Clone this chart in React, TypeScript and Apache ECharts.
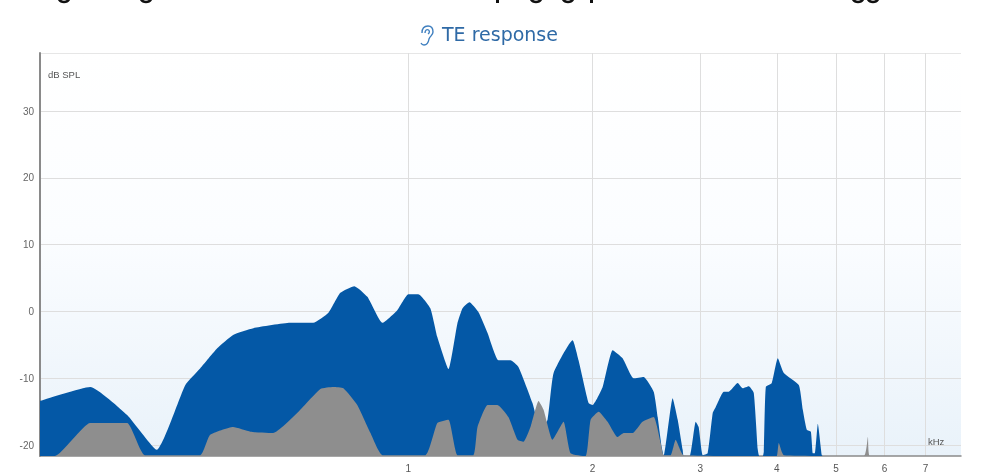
import React, { useEffect, useRef } from "react";
import * as echarts from "echarts";

const TITLE = "TE response";
const Y_UNIT = "dB SPL";
const X_UNIT = "kHz";
const FLOOR = -21.63;
const CEIL = 38.7;
const levelTicks = [-20, -10, 0, 10, 20, 30];
const freqTicks = [1, 2, 3, 4, 5, 6, 7];

const responseFreq = [
  0.25, 0.302, 0.347, 0.388, 0.432, 0.457, 0.487, 0.517, 0.558, 0.641, 0.699, 0.74, 0.774, 0.816, 0.857, 0.907, 0.959,
  1, 1.038, 1.086, 1.115, 1.163, 1.203, 1.226, 1.258, 1.302, 1.347, 1.404, 1.468, 1.513, 1.595, 1.644, 1.688, 1.727,
  1.855, 1.897, 1.97, 2, 2.077, 2.157, 2.239, 2.334, 2.424, 2.517, 2.555, 2.594, 2.613, 2.703, 2.755, 2.807, 2.818,
  2.882, 2.948, 2.981, 3.027, 3.084, 3.143, 3.179, 3.276, 3.338, 3.453, 3.519, 3.6, 3.668, 3.724, 3.745, 3.795, 3.809,
  3.838, 3.925, 4.015, 4.107, 4.345, 4.411, 4.478, 4.547, 4.581, 4.616, 4.668, 4.738, 4.76, 8,
];
const responseLevel = [
  -13.4, -11.3, -15.5, -20.7, -11, -8.5, -5.5, -3.5, -2.5, -1.7, -1.7, -0.2, 2.8, 3.8, 2.2, -1.7, 0.2,
  2.6, 2.6, 0.5, -3.8, -8.6, -1.7, 0.5, 1.4, -0.1, -3.2, -7.3, -7.3, -8.3, -13.7, -17.7, -16.2, -9.2,
  -4.3, -7.3, -13.7, -14, -11.3, -5.8, -7, -10, -9.8, -12, -15.8, -20.3, -21.63, -13, -16.2, -20.7, -21.63,
  -21.63, -16.5, -17.3, -21.5, -21.2, -15.2, -14.3, -12, -12, -10.7, -11.5, -11.2, -12.2, -20.7, -21.63, -21.63, -21,
  -11.3, -10.7, -7, -9.2, -11, -14.7, -17.7, -18, -21.2, -21.2, -16.8, -21.5, -21.63, -21.63,
];

const noiseFreq = [
  0.25, 0.2645, 0.302, 0.347, 0.371, 0.457, 0.474, 0.517, 0.552, 0.601, 0.658, 0.718, 0.754, 0.783, 0.825, 0.867, 0.907,
  1.066, 1.115, 1.163, 1.203, 1.277, 1.297, 1.347, 1.398, 1.457, 1.508, 1.542, 1.583, 1.632, 1.663, 1.72, 1.793, 1.841,
  1.948, 1.985, 2.046, 2.116, 2.197, 2.248, 2.325, 2.413, 2.517, 2.584, 2.613, 2.683, 2.734, 2.818, 3.95, 4, 4.03, 4.107,
  5.551, 5.636, 5.678, 8,
];
const noiseLevel = [
  -21.63, -21.63, -16.7, -16.7, -21.5, -21.5, -18.5, -17.3, -18, -18.2, -15.2, -11.6, -11.3, -11.5, -14, -18.2, -21.5,
  -21.5, -16.7, -16.2, -21.5, -21.5, -17.3, -14, -14, -15.8, -19.2, -19.5, -17.3, -13.4, -14.7, -19.2, -16.5, -21.2,
  -21.63, -16.2, -15, -16.5, -18.8, -18.2, -18.2, -16.5, -15.8, -19.7, -21.5, -21.5, -19.2, -21.5, -21.63, -21.63, -19.7, -21.5,
  -21.63, -18.8, -21.63, -21.63,
];

echarts.graphic.registerShape(
  "earIcon",
  echarts.graphic.extendPath(
    "M3 8 C3 3 6 1 9 1 C12 1 14 3 14 7 C14 10 11 11 10 14 C9.5 17 8 20 5 20 C3.5 20 2.5 19 2 18 M6 8 C6 5 8 4 9.5 5 C11 6 10.5 8 9 9",
    {}
  )
);

export default function App() {
  const ref = useRef<HTMLDivElement>(null);
  useEffect(() => {
    const chart = echarts.init(ref.current!, null, { renderer: "svg" });
    const tails = [64, 146, 536, 568, 858, 873].map((x) => ({
      type: "arc",
      shape: { cx: x, cy: -4, r: 6, startAngle: 0.4, endAngle: Math.PI - 0.4 },
      style: { stroke: "#111", lineWidth: 2.5, fill: "none" },
    }));
    const stems = [496, 590].map((x) => ({
      type: "rect",
      shape: { x, y: 0, width: 3, height: 3 },
      style: { fill: "#111" },
    }));
    chart.setOption({
      animation: false,
      backgroundColor: "#fff",
      title: {
        text: TITLE,
        left: 442,
        top: 24,
        padding: 0,
        textStyle: { color: "#2f6aa6", fontSize: 19, fontWeight: 400, fontFamily: "DejaVu Sans" },
      },
      grid: {
        left: 40,
        right: 32,
        top: 53,
        bottom: 18,
        show: true,
        borderWidth: 0,
        backgroundColor: {
          type: "linear",
          x: 0,
          y: 0,
          x2: 0,
          y2: 1,
          colorStops: [
            { offset: 0, color: "#ffffff" },
            { offset: 0.45, color: "#fbfdff" },
            { offset: 1, color: "#e9f2fa" },
          ],
        },
      },
      xAxis: {
        type: "log",
        logBase: 2,
        min: 0.25,
        max: 8,
        axisLine: { show: true, onZero: false, lineStyle: { color: "#8a8a8a", width: 1.5 } },
        axisTick: { show: false, customValues: freqTicks },
        minorTick: { show: false },
        minorSplitLine: { show: false },
        axisLabel: {
          customValues: freqTicks,
          color: "#555",
          fontSize: 10,
          fontFamily: "Liberation Sans",
          margin: 7,
        },
        splitLine: { show: true, lineStyle: { color: "#dedede", width: 1 } },
      },
      yAxis: {
        type: "value",
        min: FLOOR,
        max: CEIL,
        axisLine: { show: true, lineStyle: { color: "#8a8a8a", width: 2 } },
        axisTick: { show: false, customValues: levelTicks },
        axisLabel: {
          customValues: levelTicks,
          color: "#666",
          fontSize: 10,
          fontFamily: "Liberation Sans",
          margin: 6,
        },
        splitLine: { show: true, lineStyle: { color: "#dedede", width: 1 } },
      },
      series: [
        {
          name: "Response",
          type: "line",
          symbol: "none",
          smooth: 0.15,
          data: responseFreq.map((f, i) => [f, responseLevel[i]]),
          lineStyle: { width: 0 },
          areaStyle: { color: "#0458a6", opacity: 1, origin: "start" },
          z: 3,
        },
        {
          name: "Noise",
          type: "line",
          symbol: "none",
          smooth: 0.15,
          data: noiseFreq.map((f, i) => [f, noiseLevel[i]]),
          lineStyle: { width: 0 },
          areaStyle: { color: "#8e8e8e", opacity: 1, origin: "start" },
          z: 4,
        },
      ],
      graphic: [
        {
          type: "earIcon",
          x: 419,
          y: 25,
          scaleX: 1,
          scaleY: 1,
          style: { stroke: "#3f7fbf", lineWidth: 1.4, fill: "none" },
        },
        {
          type: "text",
          x: 48,
          y: 69,
          style: { text: Y_UNIT, fill: "#555", fontSize: 9.5, fontFamily: "Liberation Sans" },
        },
        {
          type: "text",
          x: 928,
          y: 436,
          style: { text: X_UNIT, fill: "#555", fontSize: 9.5, fontFamily: "Liberation Sans" },
        },
        {
          type: "rect",
          shape: { x: 40, y: 53, width: 921, height: 1 },
          style: { fill: "#e6e6e6" },
        },
        ...stems,
        ...tails,
      ],
    });
    return () => chart.dispose();
  }, []);
  return (
    <div
      ref={ref}
      style={{ position: "fixed", left: 0, top: 0, width: 993, height: 474, filter: "blur(0.5px)" }}
    />
  );
}
